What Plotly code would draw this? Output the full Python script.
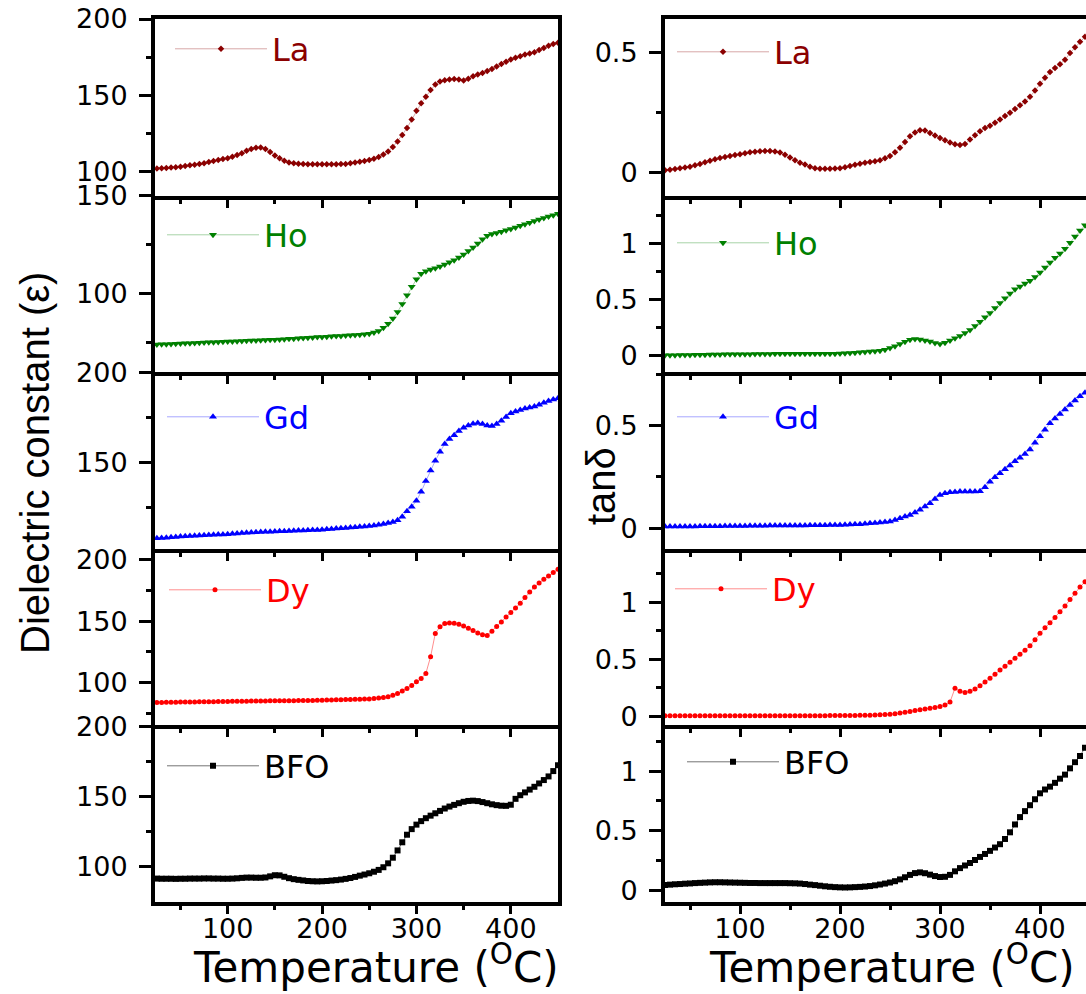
import plotly.graph_objects as go

# ---------------- data ----------------
temperature = [25, 30, 35, 40, 45, 50, 55, 60, 65, 70,
               75, 80, 85, 90, 95, 100, 105, 110, 115, 120,
               125, 130, 135, 140, 145, 150, 155, 160, 165, 170,
               175, 180, 185, 190, 195, 200, 205, 210, 215, 220,
               225, 230, 235, 240, 245, 250, 255, 260, 265, 270,
               275, 280, 285, 290, 295, 300, 305, 310, 315, 320,
               325, 330, 335, 340, 345, 350, 355, 360, 365, 370,
               375, 380, 385, 390, 395, 400, 405, 410, 415, 420,
               425, 430, 435, 440, 445, 450]

la_eps = [101.8, 102.0, 102.2, 102.4, 102.7, 103.0, 103.4, 103.9, 104.3, 104.8,
          105.3, 106.0, 106.7, 107.4, 108.0, 108.6, 109.5, 110.6, 111.8, 113.4,
          114.6, 115.4, 115.6, 114.6, 112.6, 110.4, 108.5, 106.9, 105.8, 105.2,
          104.9, 104.7, 104.6, 104.6, 104.6, 104.6, 104.6, 104.6, 104.6, 104.7,
          104.8, 105.2, 105.8, 106.3, 106.8, 107.4, 108.2, 109.4, 111.0, 113.0,
          116.0, 119.6, 123.8, 128.4, 134.0, 139.8, 144.6, 149.0, 153.4, 157.0,
          159.0, 159.8, 160.3, 160.6, 160.2, 159.6, 160.8, 162.4, 163.6, 164.6,
          165.8, 167.2, 168.8, 170.4, 172.0, 173.4, 174.6, 175.6, 176.6, 177.4,
          178.2, 179.6, 181.0, 182.4, 183.6, 184.4]
la_tan = [0.011, 0.013, 0.016, 0.019, 0.022, 0.025, 0.031, 0.037, 0.044, 0.050,
          0.056, 0.061, 0.066, 0.070, 0.074, 0.077, 0.081, 0.085, 0.088, 0.090,
          0.091, 0.091, 0.089, 0.084, 0.075, 0.064, 0.052, 0.042, 0.034, 0.025,
          0.019, 0.017, 0.017, 0.017, 0.018, 0.019, 0.023, 0.028, 0.033, 0.038,
          0.042, 0.045, 0.048, 0.052, 0.060, 0.070, 0.085, 0.104, 0.128, 0.152,
          0.168, 0.177, 0.176, 0.166, 0.155, 0.145, 0.135, 0.126, 0.119, 0.116,
          0.120, 0.138, 0.156, 0.173, 0.186, 0.196, 0.208, 0.222, 0.236, 0.250,
          0.265, 0.281, 0.297, 0.316, 0.342, 0.370, 0.395, 0.419, 0.436, 0.452,
          0.470, 0.498, 0.522, 0.545, 0.566, 0.586]

ho_eps = [74.1, 74.2, 74.3, 74.4, 74.5, 74.6, 74.7, 74.8, 74.9, 75.0,
          75.1, 75.2, 75.3, 75.4, 75.5, 75.6, 75.7, 75.8, 75.9, 76.0,
          76.1, 76.2, 76.3, 76.4, 76.5, 76.6, 76.7, 76.8, 77.0, 77.1,
          77.3, 77.4, 77.6, 77.7, 77.9, 78.0, 78.1, 78.3, 78.4, 78.5,
          78.7, 78.8, 79.0, 79.1, 79.3, 79.6, 80.2, 81.0, 82.6, 84.7,
          87.4, 90.7, 94.8, 99.2, 103.6, 107.4, 110.2, 111.5, 112.3, 113.0,
          113.9, 114.9, 116.0, 117.1, 118.5, 120.0, 121.8, 123.6, 125.6, 127.7,
          129.5, 130.4, 131.0, 131.6, 132.3, 133.0, 133.8, 134.6, 135.4, 136.2,
          137.0, 137.8, 138.6, 139.3, 140.0, 140.7]
ho_tan = [0.006, 0.006, 0.007, 0.008, 0.008, 0.009, 0.010, 0.010, 0.011, 0.012,
          0.012, 0.013, 0.014, 0.014, 0.015, 0.015, 0.016, 0.016, 0.017, 0.017,
          0.018, 0.018, 0.019, 0.019, 0.020, 0.020, 0.020, 0.020, 0.020, 0.020,
          0.020, 0.020, 0.020, 0.020, 0.020, 0.021, 0.023, 0.026, 0.029, 0.033,
          0.036, 0.039, 0.042, 0.046, 0.055, 0.070, 0.087, 0.106, 0.126, 0.145,
          0.150, 0.146, 0.138, 0.128, 0.116, 0.106, 0.118, 0.138, 0.157, 0.178,
          0.204, 0.232, 0.268, 0.306, 0.344, 0.383, 0.428, 0.472, 0.514, 0.556,
          0.594, 0.620, 0.646, 0.670, 0.705, 0.744, 0.788, 0.834, 0.875, 0.914,
          0.955, 1.010, 1.065, 1.118, 1.166, 1.210]

gd_eps = [107.9, 108.0, 108.2, 108.4, 108.6, 108.8, 108.9, 109.1, 109.2, 109.4,
          109.5, 109.6, 109.8, 109.9, 110.0, 110.1, 110.3, 110.5, 110.7, 110.9,
          111.0, 111.2, 111.3, 111.4, 111.5, 111.6, 111.7, 111.8, 111.9, 112.0,
          112.1, 112.2, 112.3, 112.4, 112.5, 112.6, 112.8, 113.0, 113.2, 113.4,
          113.6, 113.8, 114.0, 114.2, 114.4, 114.6, 114.9, 115.3, 115.8, 116.3,
          116.9, 117.8, 119.8, 122.8, 125.4, 128.6, 133.6, 139.6, 145.4, 150.9,
          155.8, 160.2, 163.0, 165.0, 167.4, 169.2, 170.4, 171.4, 171.8, 171.2,
          170.4, 170.2, 171.2, 173.0, 175.2, 177.2, 178.2, 179.0, 179.8, 180.4,
          181.0, 182.0, 183.0, 184.0, 184.8, 185.6]
gd_tan = [0.008, 0.008, 0.008, 0.009, 0.009, 0.009, 0.009, 0.010, 0.010, 0.010,
          0.010, 0.010, 0.011, 0.011, 0.011, 0.011, 0.011, 0.012, 0.012, 0.012,
          0.012, 0.013, 0.013, 0.013, 0.013, 0.014, 0.014, 0.014, 0.014, 0.015,
          0.015, 0.015, 0.015, 0.016, 0.016, 0.016, 0.017, 0.018, 0.019, 0.020,
          0.022, 0.024, 0.026, 0.028, 0.030, 0.033, 0.040, 0.049, 0.057, 0.065,
          0.077, 0.090, 0.106, 0.122, 0.143, 0.162, 0.170, 0.175, 0.177, 0.179,
          0.179, 0.179, 0.179, 0.180, 0.200, 0.226, 0.248, 0.268, 0.287, 0.306,
          0.326, 0.344, 0.362, 0.384, 0.416, 0.448, 0.480, 0.512, 0.535, 0.556,
          0.578, 0.600, 0.622, 0.643, 0.660, 0.676]

dy_eps = [83.7, 83.7, 83.8, 83.8, 83.9, 84.0, 84.0, 84.1, 84.1, 84.2,
          84.2, 84.3, 84.3, 84.4, 84.4, 84.5, 84.6, 84.6, 84.7, 84.7,
          84.8, 84.8, 84.9, 84.9, 85.0, 85.0, 85.1, 85.1, 85.2, 85.2,
          85.3, 85.3, 85.4, 85.4, 85.5, 85.6, 85.7, 85.8, 85.9, 86.0,
          86.1, 86.2, 86.3, 86.4, 86.5, 86.6, 86.9, 87.3, 87.7, 88.3,
          89.5, 91.0, 93.0, 95.1, 97.6, 100.5, 103.3, 107.4, 121.0, 140.0,
          145.5, 148.0, 148.4, 148.2, 147.4, 146.0, 144.3, 142.3, 140.4, 139.0,
          138.4, 141.8, 145.6, 149.4, 153.3, 157.0, 160.8, 164.6, 169.2, 173.8,
          177.8, 181.2, 184.2, 186.9, 189.6, 192.4]
dy_tan = [0.005, 0.005, 0.004, 0.004, 0.004, 0.004, 0.004, 0.004, 0.004, 0.004,
          0.004, 0.004, 0.004, 0.004, 0.004, 0.004, 0.004, 0.004, 0.004, 0.004,
          0.004, 0.005, 0.005, 0.005, 0.005, 0.005, 0.005, 0.005, 0.005, 0.005,
          0.005, 0.005, 0.005, 0.006, 0.006, 0.006, 0.006, 0.007, 0.007, 0.008,
          0.009, 0.010, 0.011, 0.013, 0.015, 0.018, 0.022, 0.028, 0.035, 0.042,
          0.050, 0.057, 0.064, 0.071, 0.078, 0.086, 0.098, 0.125, 0.247, 0.220,
          0.208, 0.220, 0.240, 0.268, 0.300, 0.334, 0.370, 0.406, 0.440, 0.475,
          0.510, 0.545, 0.580, 0.618, 0.672, 0.728, 0.776, 0.820, 0.868, 0.918,
          0.968, 1.024, 1.080, 1.134, 1.180, 1.225]

bfo_eps = [91.7, 91.6, 91.6, 91.6, 91.5, 91.6, 91.6, 91.7, 91.7, 91.7,
           91.8, 91.8, 91.7, 91.7, 91.6, 91.6, 91.7, 91.9, 92.2, 92.4,
           92.4, 92.3, 92.3, 92.5, 93.3, 94.1, 94.0, 93.0, 92.0, 91.3,
           90.8, 90.4, 90.0, 89.8, 89.7, 89.8, 90.0, 90.3, 90.6, 91.0,
           91.5, 92.1, 92.9, 93.8, 94.6, 95.5, 96.6, 97.9, 99.8, 102.6,
           106.6, 111.8, 117.6, 123.0, 127.0, 130.2, 132.7, 134.8, 136.6, 138.3,
           140.0, 141.7, 143.1, 144.3, 145.5, 146.5, 147.1, 147.3, 147.0, 146.3,
           145.5, 144.7, 144.1, 143.7, 143.6, 144.4, 148.6, 151.2, 153.2, 155.2,
           157.2, 159.6, 162.0, 164.6, 168.4, 172.6]
bfo_tan = [0.043, 0.046, 0.049, 0.051, 0.054, 0.056, 0.059, 0.061, 0.063, 0.065,
           0.066, 0.066, 0.065, 0.064, 0.063, 0.062, 0.061, 0.060, 0.060, 0.059,
           0.059, 0.059, 0.059, 0.059, 0.059, 0.058, 0.057, 0.055, 0.051, 0.046,
           0.042, 0.037, 0.032, 0.028, 0.025, 0.023, 0.022, 0.023, 0.025, 0.027,
           0.030, 0.034, 0.040, 0.047, 0.055, 0.064, 0.075, 0.090, 0.108, 0.128,
           0.143, 0.149, 0.142, 0.130, 0.118, 0.110, 0.112, 0.128, 0.158, 0.185,
           0.207, 0.228, 0.253, 0.279, 0.304, 0.330, 0.358, 0.386, 0.430, 0.486,
           0.552, 0.614, 0.664, 0.714, 0.764, 0.814, 0.846, 0.870, 0.902, 0.937,
           0.971, 1.024, 1.076, 1.128, 1.198, 1.260]

sample_names = ["La", "Ho", "Gd", "Dy", "BFO"]
eps_series = [la_eps, ho_eps, gd_eps, dy_eps, bfo_eps]
tan_series = [la_tan, ho_tan, gd_tan, dy_tan, bfo_tan]

x_major_ticks = [100, 200, 300, 400]
x_minor_ticks = [50, 150, 250, 350]

eps_ranges = [[84, 200], [60, 150], [102, 200], [65, 209], [75, 201]]
eps_major = [[100, 150, 200], [100, 150], [150, 200], [100, 150, 200], [100, 150, 200]]
eps_minor = [[125, 175], [75, 125], [125, 175], [75, 125, 175], [125, 175]]

tan_ranges = [[-0.095, 0.64], [-0.145, 1.43], [-0.1, 0.76], [-0.08, 1.47], [-0.1, 1.385]]
tan_major = [[0, 0.5], [0, 0.5, 1], [0, 0.5], [0, 0.5, 1], [0, 0.5, 1]]
tan_minor = [[0.25], [0.25, 0.75, 1.25], [0.25, 0.75], [0.25, 0.75, 1.25], [0.25, 0.75, 1.25]]

# ---------------- styling ----------------
W, H = 1086, 994
colors = ["#8B0000", "#008000", "#0000FF", "#FF0000", "#000000"]
line_colors = ["rgba(139,0,0,0.35)", "rgba(0,128,0,0.35)", "rgba(0,0,255,0.35)",
               "rgba(255,0,0,0.45)", "rgba(0,0,0,0.55)"]
symbols = ["diamond", "triangle-down", "triangle-up", "circle", "square"]
msizes = [5, 7, 7, 5, 6]

TICK_FONT = dict(family="DejaVu Sans", size=27, color="black")
top_px, bot_px = 19, 902
row_h = (bot_px - top_px) / 5
col_dom = [[155 / W, 558 / W], [665 / W, 1.0]]
x_ranges = [[23, 450], [25, 446]]

# legend placement (pixel positions of legend line start / centre height)
leg_left = [(176, 49), (168, 235), (168, 417), (170, 590), (168, 766)]
leg_right = [(678, 52), (678, 243), (678, 417), (676, 589), (688, 762)]

fig = go.Figure()
layout = dict(width=W, height=H, margin=dict(l=0, r=0, t=0, b=0, autoexpand=False),
              paper_bgcolor="white", plot_bgcolor="rgba(0,0,0,0)",
              template="none", annotations=[])

for r in range(5):
    y0 = top_px + r * row_h
    y1 = y0 + row_h
    ydom = [1 - y1 / H, 1 - y0 / H]
    for c in range(2):
        idx = r * 2 + c + 1
        sfx = "" if idx == 1 else str(idx)
        vals = eps_series[r] if c == 0 else tan_series[r]
        leg_name = "legend" if idx == 1 else "legend%d" % idx
        fig.add_trace(go.Scatter(
            x=temperature, y=vals, mode="lines+markers", name=sample_names[r],
            xaxis="x" + sfx, yaxis="y" + sfx, legend=leg_name,
            line=dict(color=line_colors[r], width=1),
            marker=dict(symbol=symbols[r], size=msizes[r], color=colors[r],
                        line=dict(width=0)),
            cliponaxis=True, showlegend=True))
        layout["xaxis" + sfx] = dict(
            domain=col_dom[c], range=x_ranges[c], anchor="y" + sfx,
            automargin=False,
            showline=True, linewidth=4, linecolor="black", mirror=(r == 0),
            ticks="outside", ticklen=8, tickwidth=3, tickcolor="black",
            tickvals=x_major_ticks, showticklabels=(r == 4),
            tickfont=TICK_FONT, ticklabelstandoff=-8,
            minor=dict(tickvals=x_minor_ticks, ticks="outside", ticklen=4,
                       tickwidth=3, tickcolor="black"),
            showgrid=False, zeroline=False)
        if c == 0:
            rng, maj, mnr = eps_ranges[r], eps_major[r], eps_minor[r]
        else:
            rng, maj, mnr = tan_ranges[r], tan_major[r], tan_minor[r]
        layout["yaxis" + sfx] = dict(
            domain=ydom, range=rng, anchor="x" + sfx, automargin=False,
            showline=True, linewidth=4, linecolor="black", mirror=(c == 0),
            ticks="outside", ticklen=12, tickwidth=3, tickcolor="black",
            tickvals=maj, tickfont=TICK_FONT, ticklabelstandoff=6,
            minor=dict(tickvals=mnr, ticks="outside", ticklen=5, tickwidth=3,
                       tickcolor="black"),
            showgrid=False, zeroline=False)
        lx, ly = (leg_left if c == 0 else leg_right)[r]
        layout[leg_name] = dict(
            x=(lx - 6) / W, y=1 - ly / H, xanchor="left", yanchor="middle",
            bgcolor="rgba(0,0,0,0)", borderwidth=0, itemwidth=92,
            font=dict(family="DejaVu Sans", size=32, color=colors[r]),
            itemclick=False, itemdoubleclick=False)

layout["annotations"] = [
    dict(text="Dielectric constant (ε)", textangle=-90, x=35 / W, y=1 - 463 / H,
         xref="paper", yref="paper", xanchor="center", yanchor="middle",
         showarrow=False, font=dict(family="Liberation Sans", size=40, color="black")),
    dict(text="tanδ", textangle=-90, x=601 / W, y=1 - 486 / H,
         xref="paper", yref="paper", xanchor="center", yanchor="middle",
         showarrow=False, font=dict(family="Liberation Sans", size=40, color="black")),
    dict(text="Temperature (<sup>O</sup>C)", x=376 / W, y=1 - 964 / H,
         xref="paper", yref="paper", xanchor="center", yanchor="middle",
         showarrow=False, font=dict(family="DejaVu Sans", size=42, color="black")),
    dict(text="Temperature (<sup>O</sup>C)", x=892 / W, y=1 - 964 / H,
         xref="paper", yref="paper", xanchor="center", yanchor="middle",
         showarrow=False, font=dict(family="DejaVu Sans", size=42, color="black")),
]

fig.update_layout(**layout)
fig.write_html("out.html")
